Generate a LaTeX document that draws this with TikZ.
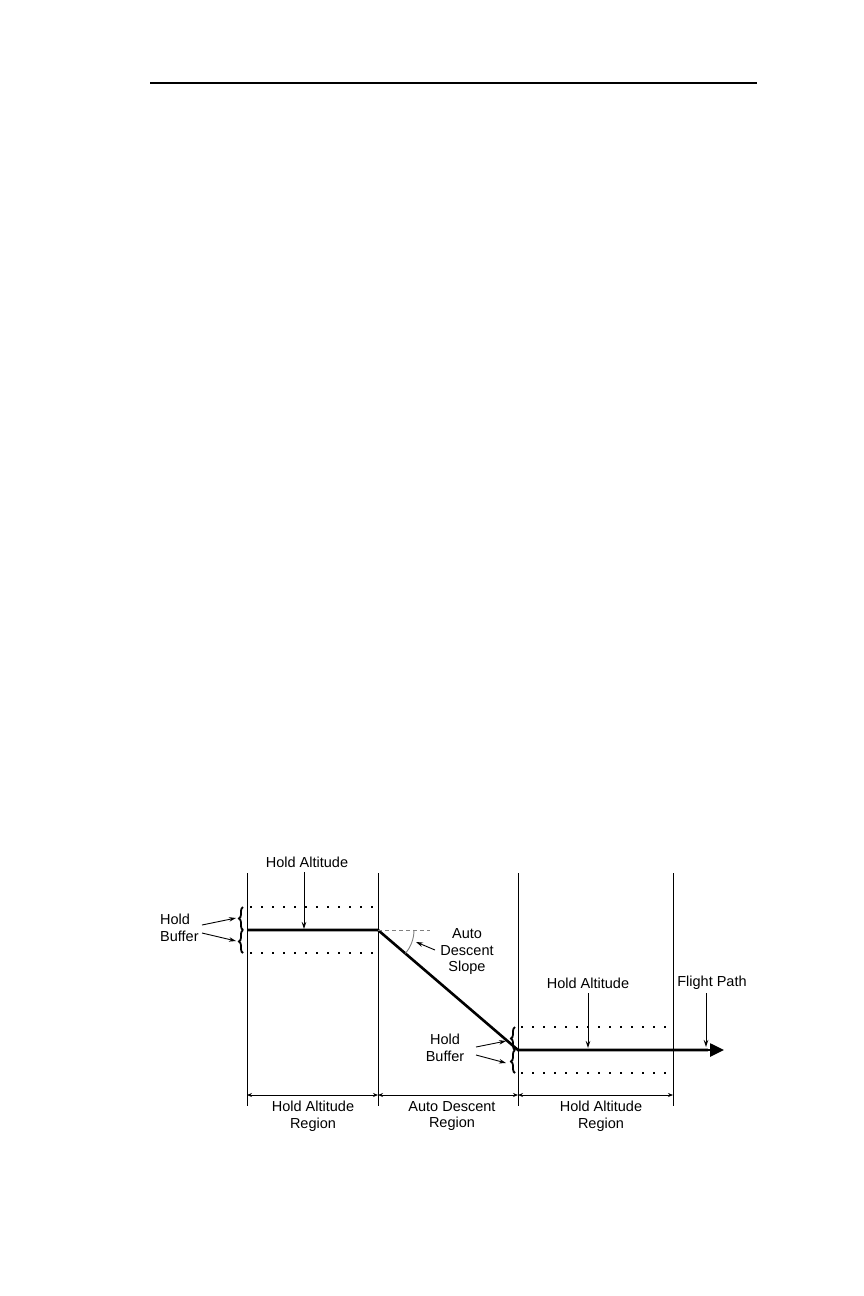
\documentclass[tikz,border=0pt]{standalone}
\usepackage{fontspec}
\setmainfont{Liberation Sans}
\usetikzlibrary{arrows.meta,decorations.pathreplacing}
\begin{document}
\begin{tikzpicture}[x=1pt,y=-1pt,
 lbl/.style={font=\fontsize{14.5}{16.5}\selectfont, inner sep=0pt, align=center},
 vline/.style={line width=0.9pt},
 fpath/.style={line width=2.6pt},
 dotline/.style={line width=1.8pt, dash pattern=on 1.8pt off 9.2pt},
 ptr/.style={line width=0.9pt,-{Stealth[length=7pt,width=4.5pt]}},
 dim/.style={line width=0.8pt,{Stealth[length=5pt,width=4pt]}-{Stealth[length=5pt,width=4pt]}},
 brc/.style={line width=1.8pt, decorate, decoration={brace,amplitude=4pt}},
]
\useasboundingbox (0,0) rectangle (864,1296);
% header rule
\draw[line width=1.4pt] (150,83) -- (757,83);
% region boundaries
\coordinate (v1t) at (247,873); \coordinate (v1b) at (247,1106);
\coordinate (v2t) at (378,873); \coordinate (v2b) at (378,1106);
\coordinate (v3t) at (518,873); \coordinate (v3b) at (518,1106);
\coordinate (v4t) at (673,873); \coordinate (v4b) at (673,1106);
\foreach \i in {1,2,3,4} \draw[vline] (v\i t) -- (v\i b);
% buffers (dotted)
\draw[dotline] (250,907) -- (378,907);
\draw[dotline] (250,953) -- (378,953);
\draw[dotline] (521,1027) -- (670,1027);
\draw[dotline] (521,1073) -- (670,1073);
% flight path
\coordinate (p0) at (247,930);
\coordinate (p1) at (378,930);
\coordinate (p2) at (518,1050);
\coordinate (p3) at (724,1050);
\draw[fpath, line join=miter] (p0) -- (p1) -- (p2) -- ++(190,0);
\draw[fpath,-{Triangle[length=14pt,width=13pt]}] (700,1050) -- (p3);
% slope reference
\draw[gray, line width=0.9pt, dash pattern=on 4pt off 3pt] (p1) -- ++(52,0);
\draw[gray, line width=0.9pt] (p1) ++(36,0) arc[start angle=0, end angle=40.6, radius=36];
% braces
\draw[brc] (243,930) -- (243,907);
\draw[brc] (243,953) -- (243,930);
\draw[brc] (515,1050) -- (515,1027);
\draw[brc] (515,1073) -- (515,1050);
% labels
\node[lbl] (ha1) at (307,862) {Hold Altitude};
\node[lbl, align=left, anchor=west] (hb1) at (160,928) {Hold\\Buffer};
\node[lbl] (ads) at (467,952) {Auto\\Descent\\Slope};
\node[lbl] (hb2) at (445,1048) {Hold\\Buffer};
\node[lbl] (ha2) at (588,983) {Hold Altitude};
\node[lbl] (fp) at (712,983) {Flight Path};
\node[lbl] (r1) at (313,1116) {Hold Altitude\\Region};
\node[lbl] (r2) at (452,1116) {Auto Descent\\Region};
\node[lbl] (r3) at (601,1116) {Hold Altitude\\Region};
% pointers
\coordinate (ha1t) at (304,929);
\coordinate (ha2t) at (588,1048);
\coordinate (fpt) at (706,1047);
\draw[ptr] (304,872) -- (ha1t);
\draw[ptr] (588,993) -- (ha2t);
\draw[ptr] (706,993) -- (fpt);
\coordinate (b1a) at (236,918); \coordinate (b1b) at (236,941);
\coordinate (b2a) at (506,1041); \coordinate (b2b) at (506,1063);
\draw[ptr] (202,925) -- (b1a);
\draw[ptr] (202,933) -- (b1b);
\draw[ptr] (476,1047) -- (b2a);
\draw[ptr] (476,1055) -- (b2b);
\coordinate (arcpt) at (416,942);
\draw[ptr] (435,950) -- (arcpt);
% dimension arrows
\draw[dim] (247,1095) -- (378,1095);
\draw[dim] (378,1095) -- (518,1095);
\draw[dim] (518,1095) -- (673,1095);
\end{tikzpicture}
\end{document}
